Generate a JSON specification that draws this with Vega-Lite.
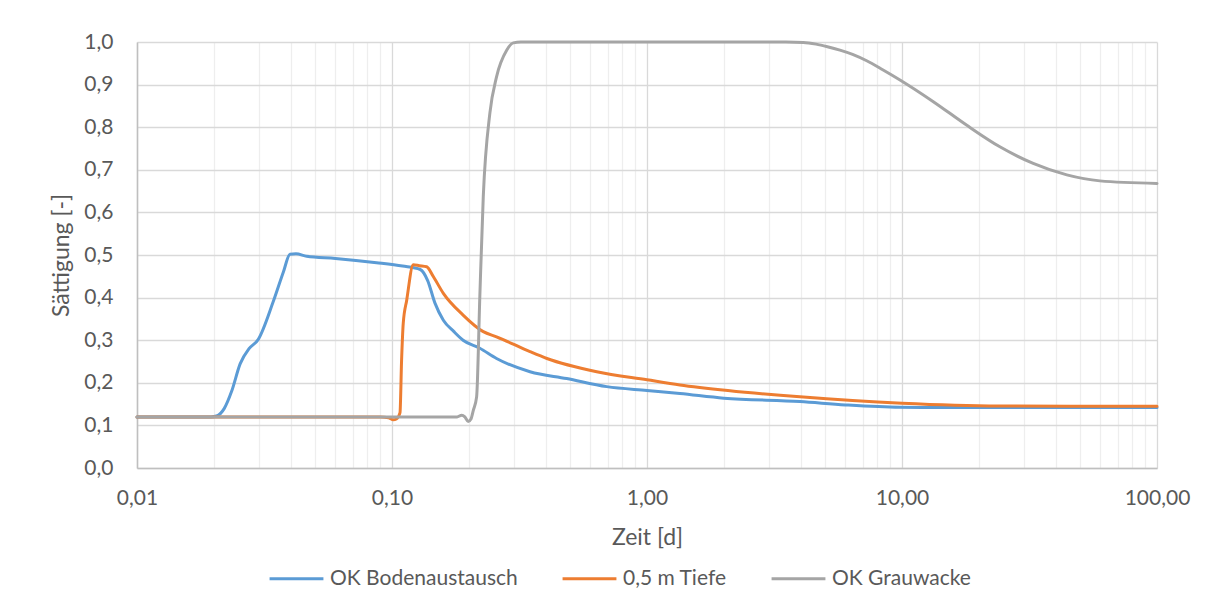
{
  "$schema": "https://vega.github.io/schema/vega-lite/v6.json",
  "width": 1020,
  "height": 426,
  "autosize": "none",
  "padding": {"left": 137, "top": 42, "right": 58, "bottom": 139},
  "background": "white",
  "config": {
    "font": "Lato",
    "view": {"stroke": null},
    "axis": {"labelColor": "#595959", "titleColor": "#595959", "labelFontSize": 21, "titleFontSize": 23, "titleFontWeight": "normal", "ticks": false, "domainColor": "#bfbfbf", "domainWidth": 1.5, "labelFlush": false}
  },
  "data": {"values": [
    {"t":0.01,"s":0.12,"series":"OK Bodenaustausch"},
    {"t":0.015,"s":0.12,"series":"OK Bodenaustausch"},
    {"t":0.0195,"s":0.12,"series":"OK Bodenaustausch"},
    {"t":0.0205,"s":0.122,"series":"OK Bodenaustausch"},
    {"t":0.022,"s":0.14,"series":"OK Bodenaustausch"},
    {"t":0.0235,"s":0.18,"series":"OK Bodenaustausch"},
    {"t":0.0254,"s":0.245,"series":"OK Bodenaustausch"},
    {"t":0.0275,"s":0.28,"series":"OK Bodenaustausch"},
    {"t":0.0299,"s":0.302,"series":"OK Bodenaustausch"},
    {"t":0.0342,"s":0.39,"series":"OK Bodenaustausch"},
    {"t":0.0375,"s":0.46,"series":"OK Bodenaustausch"},
    {"t":0.0398,"s":0.502,"series":"OK Bodenaustausch"},
    {"t":0.042,"s":0.503,"series":"OK Bodenaustausch"},
    {"t":0.0463,"s":0.497,"series":"OK Bodenaustausch"},
    {"t":0.06,"s":0.492,"series":"OK Bodenaustausch"},
    {"t":0.087,"s":0.482,"series":"OK Bodenaustausch"},
    {"t":0.11,"s":0.474,"series":"OK Bodenaustausch"},
    {"t":0.129,"s":0.466,"series":"OK Bodenaustausch"},
    {"t":0.138,"s":0.44,"series":"OK Bodenaustausch"},
    {"t":0.1474,"s":0.387,"series":"OK Bodenaustausch"},
    {"t":0.159,"s":0.347,"series":"OK Bodenaustausch"},
    {"t":0.175,"s":0.32,"series":"OK Bodenaustausch"},
    {"t":0.19,"s":0.3,"series":"OK Bodenaustausch"},
    {"t":0.221,"s":0.281,"series":"OK Bodenaustausch"},
    {"t":0.257,"s":0.257,"series":"OK Bodenaustausch"},
    {"t":0.3477,"s":0.226,"series":"OK Bodenaustausch"},
    {"t":0.484,"s":0.21,"series":"OK Bodenaustausch"},
    {"t":0.695,"s":0.191,"series":"OK Bodenaustausch"},
    {"t":1.0,"s":0.182,"series":"OK Bodenaustausch"},
    {"t":1.346,"s":0.175,"series":"OK Bodenaustausch"},
    {"t":2.0,"s":0.164,"series":"OK Bodenaustausch"},
    {"t":3.98,"s":0.156,"series":"OK Bodenaustausch"},
    {"t":6.0,"s":0.148,"series":"OK Bodenaustausch"},
    {"t":9.8,"s":0.1425,"series":"OK Bodenaustausch"},
    {"t":20,"s":0.142,"series":"OK Bodenaustausch"},
    {"t":50,"s":0.142,"series":"OK Bodenaustausch"},
    {"t":100,"s":0.142,"series":"OK Bodenaustausch"},

    {"t":0.01,"s":0.12,"series":"0,5 m Tiefe"},
    {"t":0.09,"s":0.12,"series":"0,5 m Tiefe"},
    {"t":0.097,"s":0.118,"series":"0,5 m Tiefe"},
    {"t":0.1012,"s":0.113,"series":"0,5 m Tiefe"},
    {"t":0.104,"s":0.115,"series":"0,5 m Tiefe"},
    {"t":0.1075,"s":0.13,"series":"0,5 m Tiefe"},
    {"t":0.109,"s":0.25,"series":"0,5 m Tiefe"},
    {"t":0.1107,"s":0.34,"series":"0,5 m Tiefe"},
    {"t":0.1142,"s":0.394,"series":"0,5 m Tiefe"},
    {"t":0.1212,"s":0.477,"series":"0,5 m Tiefe"},
    {"t":0.128,"s":0.475,"series":"0,5 m Tiefe"},
    {"t":0.1368,"s":0.4725,"series":"0,5 m Tiefe"},
    {"t":0.145,"s":0.45,"series":"0,5 m Tiefe"},
    {"t":0.159,"s":0.41,"series":"0,5 m Tiefe"},
    {"t":0.19,"s":0.359,"series":"0,5 m Tiefe"},
    {"t":0.228,"s":0.32,"series":"0,5 m Tiefe"},
    {"t":0.257,"s":0.308,"series":"0,5 m Tiefe"},
    {"t":0.3477,"s":0.273,"series":"0,5 m Tiefe"},
    {"t":0.405,"s":0.257,"series":"0,5 m Tiefe"},
    {"t":0.635,"s":0.226,"series":"0,5 m Tiefe"},
    {"t":1.0,"s":0.207,"series":"0,5 m Tiefe"},
    {"t":1.346,"s":0.195,"series":"0,5 m Tiefe"},
    {"t":1.61,"s":0.189,"series":"0,5 m Tiefe"},
    {"t":3.98,"s":0.167,"series":"0,5 m Tiefe"},
    {"t":10,"s":0.152,"series":"0,5 m Tiefe"},
    {"t":24.2,"s":0.1455,"series":"0,5 m Tiefe"},
    {"t":50,"s":0.145,"series":"0,5 m Tiefe"},
    {"t":100,"s":0.145,"series":"0,5 m Tiefe"},

    {"t":0.01,"s":0.12,"series":"OK Grauwacke"},
    {"t":0.18,"s":0.12,"series":"OK Grauwacke"},
    {"t":0.1877,"s":0.124,"series":"OK Grauwacke"},
    {"t":0.193,"s":0.12,"series":"OK Grauwacke"},
    {"t":0.199,"s":0.109,"series":"OK Grauwacke"},
    {"t":0.204,"s":0.115,"series":"OK Grauwacke"},
    {"t":0.2085,"s":0.136,"series":"OK Grauwacke"},
    {"t":0.2147,"s":0.167,"series":"OK Grauwacke"},
    {"t":0.221,"s":0.402,"series":"OK Grauwacke"},
    {"t":0.228,"s":0.637,"series":"OK Grauwacke"},
    {"t":0.242,"s":0.833,"series":"OK Grauwacke"},
    {"t":0.257,"s":0.918,"series":"OK Grauwacke"},
    {"t":0.282,"s":0.981,"series":"OK Grauwacke"},
    {"t":0.299,"s":0.998,"series":"OK Grauwacke"},
    {"t":0.32,"s":1.0,"series":"OK Grauwacke"},
    {"t":1.0,"s":1.0,"series":"OK Grauwacke"},
    {"t":3.5,"s":1.0,"series":"OK Grauwacke"},
    {"t":4.1,"s":0.999,"series":"OK Grauwacke"},
    {"t":4.6,"s":0.995,"series":"OK Grauwacke"},
    {"t":5.1,"s":0.989,"series":"OK Grauwacke"},
    {"t":5.71,"s":0.981,"series":"OK Grauwacke"},
    {"t":6.4,"s":0.971,"series":"OK Grauwacke"},
    {"t":7.27,"s":0.956,"series":"OK Grauwacke"},
    {"t":8.4,"s":0.935,"series":"OK Grauwacke"},
    {"t":9.82,"s":0.911,"series":"OK Grauwacke"},
    {"t":13.27,"s":0.86,"series":"OK Grauwacke"},
    {"t":17.9,"s":0.805,"series":"OK Grauwacke"},
    {"t":24.2,"s":0.754,"series":"OK Grauwacke"},
    {"t":32.7,"s":0.715,"series":"OK Grauwacke"},
    {"t":44.3,"s":0.688,"series":"OK Grauwacke"},
    {"t":59.7,"s":0.674,"series":"OK Grauwacke"},
    {"t":100,"s":0.668,"series":"OK Grauwacke"}
  ]},
  "mark": {"type": "line", "interpolate": "monotone", "strokeWidth": 3, "strokeCap": "round", "strokeJoin": "round", "clip": false},
  "encoding": {
    "x": {
      "field": "t", "type": "quantitative",
      "scale": {"type": "log", "domain": [0.01, 100], "nice": false},
      "axis": {
        "title": "Zeit [d]",
        "values": [0.01,0.02,0.03,0.04,0.05,0.06,0.07,0.08,0.09,0.1,0.2,0.3,0.4,0.5,0.6,0.7,0.8,0.9,1,2,3,4,5,6,7,8,9,10,20,30,40,50,60,70,80,90,100],
        "labelExpr": "abs(log(datum.value)/LN10 - round(log(datum.value)/LN10)) < 0.000001 ? replace(format(datum.value, '.2f'), '.', ',') : ''",
        "labelOverlap": false,
        "labelPadding": 19,
        "titlePadding": 18,
        "grid": true,
        "gridColor": {"condition": {"test": "abs(log(datum.value)/LN10 - round(log(datum.value)/LN10)) < 0.000001", "value": "#d9d9d9"}, "value": "#eeeeee"},
        "gridWidth": 1.3
      }
    },
    "y": {
      "field": "s", "type": "quantitative",
      "scale": {"domain": [0, 1], "nice": false},
      "axis": {
        "title": "Sättigung [-]",
        "values": [0,0.1,0.2,0.3,0.4,0.5,0.6,0.7,0.8,0.9,1.0],
        "labelExpr": "replace(format(datum.value, '.1f'), '.', ',')",
        "labelPadding": 24,
        "titlePadding": 10,
        "grid": true,
        "gridColor": "#d9d9d9",
        "gridWidth": 1.3
      }
    },
    "color": {
      "field": "series", "type": "nominal",
      "scale": {"domain": ["OK Bodenaustausch", "0,5 m Tiefe", "OK Grauwacke"], "range": ["#5B9BD5", "#ED7D31", "#A5A5A5"]},
      "legend": {
        "title": null, "orient": "none", "legendX": 131, "legendY": 508, "direction": "horizontal",
        "symbolType": "stroke", "symbolSize": 2900, "symbolStrokeWidth": 3, "labelLimit": 400,
        "labelFontSize": 21, "labelColor": "#595959", "columnPadding": 38, "labelOffset": 5
      }
    }
  }
}
